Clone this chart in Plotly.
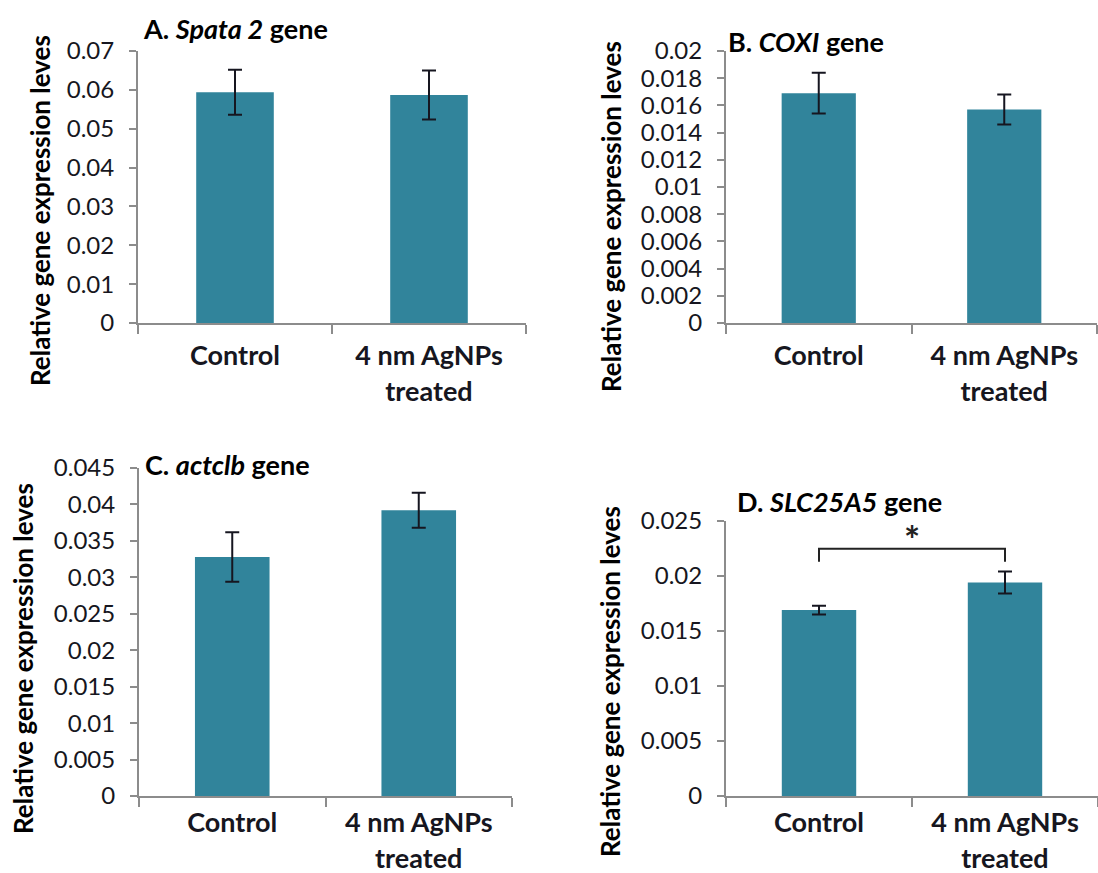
import plotly.graph_objects as go

# ---- data -------------------------------------------------------------
groups = ["Control", "4 nm AgNPs treated"]
group_labels = ["Control", "4 nm AgNPs<br>treated"]

spata2_mean = [0.0594, 0.0587]
spata2_err = [0.0058, 0.0063]

coxi_mean = [0.0169, 0.0157]
coxi_err = [0.0015, 0.0011]

actclb_mean = [0.0328, 0.0392]
actclb_err = [0.0034, 0.0024]

slc25a5_mean = [0.0169, 0.0194]
slc25a5_err = [0.0004, 0.0010]

spata2_ticks = [0, 0.01, 0.02, 0.03, 0.04, 0.05, 0.06, 0.07]
spata2_ticktext = ["0", "0.01", "0.02", "0.03", "0.04", "0.05", "0.06", "0.07"]

coxi_ticks = [0, 0.002, 0.004, 0.006, 0.008, 0.01, 0.012, 0.014, 0.016, 0.018, 0.02]
coxi_ticktext = ["0", "0.002", "0.004", "0.006", "0.008", "0.01", "0.012",
                 "0.014", "0.016", "0.018", "0.02"]

actclb_ticks = [0, 0.005, 0.01, 0.015, 0.02, 0.025, 0.03, 0.035, 0.04, 0.045]
actclb_ticktext = ["0", "0.005", "0.01", "0.015", "0.02", "0.025", "0.03",
                   "0.035", "0.04", "0.045"]

slc25a5_ticks = [0, 0.005, 0.01, 0.015, 0.02, 0.025]
slc25a5_ticktext = ["0", "0.005", "0.01", "0.015", "0.02", "0.025"]

panel_titles = [
    "<b>A. <i>Spata 2</i> gene</b>",
    "<b>B. <i>COXI</i> gene</b>",
    "<b>C. <i>actclb</i> gene</b>",
    "<b>D. <i>SLC25A5</i> gene</b>",
]
y_title = "<b>Relative gene expression leves</b>"

# ---- styling ------------------------------------------------------------
W, H = 1098, 873
BAR = "#31849b"
AXIS = "#8c8c8c"
INK = "#161620"
FONT = "Lato"


def fx(px):
    return px / W


def fy(py):
    return 1 - py / H


# plot-area boxes in pixels: (left, right, top, bottom) and category-label standoff
boxes = [
    (138, 526, 51, 323, 8),
    (726, 1097, 51, 323, 8),
    (139, 512, 468, 796, 2),
    (726, 1098, 521, 796, 2),
]

panels = [
    (spata2_mean, spata2_err, spata2_ticks, spata2_ticktext),
    (coxi_mean, coxi_err, coxi_ticks, coxi_ticktext),
    (actclb_mean, actclb_err, actclb_ticks, actclb_ticktext),
    (slc25a5_mean, slc25a5_err, slc25a5_ticks, slc25a5_ticktext),
]

fig = go.Figure()
layout = dict(
    width=W, height=H,
    margin=dict(l=0, r=0, t=0, b=0, pad=0, autoexpand=False),
    paper_bgcolor="white", plot_bgcolor="white",
    showlegend=False,
    bargap=0.6,
    font=dict(family=FONT, color=INK),
)

for i, ((mean, err, tv, tt), (l, r, t, b, stand)) in enumerate(zip(panels, boxes), start=1):
    sfx = "" if i == 1 else str(i)
    fig.add_trace(go.Bar(
        x=groups, y=mean,
        xaxis="x" + sfx, yaxis="y" + sfx,
        marker=dict(color=BAR, line=dict(width=0)),
        error_y=dict(type="data", array=err, color=INK, thickness=2, width=7),
        hoverinfo="skip",
    ))
    layout["xaxis" + sfx] = dict(
        domain=[fx(l), fx(r)], anchor="y" + sfx,
        type="category", categoryorder="array", categoryarray=groups,
        tickmode="array", tickvals=groups, ticktext=group_labels,
        showline=True, linecolor=AXIS, linewidth=2,
        ticks="outside", tickson="boundaries", ticklen=9, tickwidth=2, tickcolor=AXIS,
        showgrid=False, zeroline=False, automargin=False,
        tickfont=dict(family=FONT, size=27, color=INK, weight="bold"),
        ticklabelstandoff=stand,
        fixedrange=True,
    )
    layout["yaxis" + sfx] = dict(
        domain=[fy(b), fy(t)], anchor="x" + sfx,
        range=[0, tv[-1]],
        tickmode="array", tickvals=tv, ticktext=tt,
        showline=True, linecolor=AXIS, linewidth=2,
        ticks="outside", ticklen=7, tickwidth=2, tickcolor=AXIS,
        showgrid=False, zeroline=False, automargin=False,
        tickfont=dict(family=FONT, size=24, color=INK),
        ticklabelstandoff=10,
        fixedrange=True,
    )

# significance bracket between the two SLC25A5 bars
fig.add_trace(go.Scatter(
    x=[groups[0], groups[0], groups[1], groups[1]],
    y=[0.0213, 0.02248, 0.02248, 0.0213],
    xaxis="x4", yaxis="y4",
    mode="lines", line=dict(color="#222222", width=2),
    hoverinfo="skip",
))

annotations = []
# panel titles (left x, centre y in pixels)
title_pos = [(141, 29), (726, 41), (143, 464), (735, 502)]
for text, (px, py) in zip(panel_titles, title_pos):
    annotations.append(dict(
        text=text, xref="paper", yref="paper", x=fx(px), y=fy(py),
        xanchor="left", yanchor="middle", showarrow=False,
        font=dict(family=FONT, size=27, color="black"),
    ))

# rotated y-axis titles (centre in pixels)
ytitle_pos = [(40, 211), (611, 217), (23, 659), (610, 682)]
for px, py in ytitle_pos:
    annotations.append(dict(
        text=y_title, xref="paper", yref="paper", x=fx(px), y=fy(py),
        xanchor="center", yanchor="middle", textangle=-90, showarrow=False,
        font=dict(family=FONT, size=26, color="black"),
    ))

# asterisk above the bracket
annotations.append(dict(
    text="<b>*</b>", xref="x4", yref="y4", x=0.5, y=0.0234,
    xanchor="center", yanchor="middle", showarrow=False,
    font=dict(family=FONT, size=38, color="#222222"),
))

layout["annotations"] = annotations
fig.update_layout(**layout)

fig.write_html("out.html")
